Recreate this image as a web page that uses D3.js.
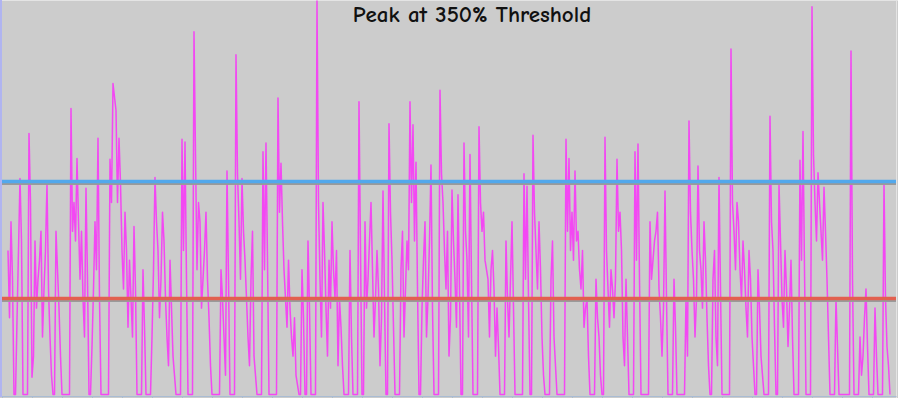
<!DOCTYPE html>
<html lang="en">
<head>
  <meta charset="UTF-8">
  <title>Peak at 350% Threshold</title>
  <style>
    html, body {
      margin: 0;
      padding: 0;
      background: #ffffff;
      overflow: hidden;
    }

    .chart-container {
      width: 898px;
      height: 398px;
      position: relative;
    }

    .title {
      font-family: "Comic Sans MS", "Comic Neue", "Noto Sans", sans-serif;
      font-size: 23px;
      font-weight: bold;
      fill: #111111;
    }

    .axis path, .axis line {
      stroke: #a9bcd3;
    }
  </style>
</head>
<body>
  <div class="chart-container">
    <svg class="chart"></svg>
  </div>

<script src="https://d3js.org/d3.v7.min.js"></script>
<script>
  // level of the signal (% of the base threshold) at whole time steps
  const signal = [
    150, 180, 0, 77, 225, 0, 0, 272, 18, 160, 120, 170, 110, 221, 60, 0, 170, 90, 0, 0,
    0, 298, 200, 246, 120, 100, 215, 0, 50, 180, 267, 0, 0, 0, 245, 324, 296, 267, 150, 190,
    70, 100, 175, 0, 0, 130, 0, 0, 60, 226, 150, 120, 160, 60, 140, 40, 0, 0, 266, 263,
    0, 0, 378, 130, 180, 120, 190, 80, 0, 0, 0, 130, 60, 233, 0, 0, 354, 180, 225, 140,
    60, 120, 40, 0, 0, 253, 262, 0, 0, 0, 309, 241, 130, 70, 90, 40, 20, 0, 130, 0,
    160, 0, 0, 410, 120, 200, 90, 140, 180, 100, 30, 70, 0, 0, 150, 0, 0, 305, 0, 180,
    120, 200, 60, 150, 30, 212, 0, 282, 140, 0, 0, 130, 60, 160, 305, 281, 242, 0, 90, 180,
    100, 239, 0, 0, 317, 200, 110, 40, 213, 120, 208, 0, 262, 140, 250, 0, 0, 279, 170, 140,
    120, 130, 110, 90, 0, 0, 160, 60, 180, 0, 0, 0, 230, 217, 0, 270, 150, 180, 60, 0,
    0, 120, 60, 0, 0, 0, 266, 246, 190, 233, 170, 110, 70, 100, 0, 0, 120, 60, 0, 268,
    110, 130, 80, 245, 190, 60, 120, 0, 0, 253, 261, 0, 0, 0, 180, 140, 170, 110, 40, 212,
    0, 0, 120, 0, 0, 0, 100, 285, 150, 60, 238, 130, 180, 80, 0, 120, 60, 226, 0, 0,
    0, 360, 170, 200, 130, 160, 90, 150, 60, 0, 130, 40, 0, 0, 290, 150, 0, 219, 100, 150,
    50, 140, 0, 0, 244, 274, 0, 0, 404, 200, 231, 170, 216, 120, 0, 0, 100, 0, 0, 0,
    0, 358, 0, 0, 60, 40, 110, 0, 0, 90, 0, 0, 221, 50, 0
  ];

  // level read half way between the whole steps
  const signalHalf = [
    80, 120, 0, 150, 160, 0, 0, 200, 40, 90, 140, 60, 150, 110, 20, 0, 130, 40, 0, 0,
    0, 170, 160, 180, 170, 60, 120, 0, 110, 130, 100, 0, 0, 0, 200, 310, 200, 220, 110, 150,
    140, 60, 110, 0, 0, 70, 0, 0, 130, 180, 80, 190, 100, 30, 90, 20, 0, 0, 150, 120,
    0, 0, 250, 200, 90, 150, 120, 30, 0, 0, 0, 100, 20, 120, 0, 0, 230, 120, 170, 100,
    30, 170, 20, 0, 0, 130, 140, 0, 0, 0, 190, 180, 100, 140, 60, 80, 10, 0, 80, 0,
    90, 0, 0, 200, 60, 150, 40, 90, 130, 150, 100, 30, 0, 0, 60, 0, 0, 150, 0, 90,
    160, 130, 100, 110, 80, 100, 0, 190, 70, 0, 0, 170, 110, 130, 200, 160, 110, 0, 140, 60,
    160, 90, 0, 0, 230, 150, 170, 80, 160, 70, 110, 0, 170, 60, 120, 0, 0, 200, 190, 130,
    60, 150, 40, 50, 0, 0, 100, 120, 90, 0, 0, 0, 120, 100, 0, 190, 110, 130, 20, 0,
    0, 160, 30, 0, 0, 0, 170, 150, 140, 160, 130, 150, 90, 40, 0, 0, 80, 20, 0, 150,
    70, 110, 120, 170, 150, 30, 60, 0, 0, 140, 120, 0, 0, 0, 120, 160, 190, 80, 90, 100,
    0, 0, 70, 0, 0, 0, 40, 190, 120, 100, 150, 90, 140, 30, 0, 150, 30, 110, 0, 0,
    0, 200, 130, 180, 100, 130, 60, 120, 30, 0, 90, 20, 0, 0, 180, 70, 0, 160, 70, 110,
    90, 60, 0, 0, 140, 130, 0, 0, 250, 160, 200, 140, 170, 60, 0, 0, 50, 0, 0, 0,
    0, 120, 0, 0, 20, 80, 50, 0, 0, 40, 0, 0, 100, 30
  ];
  const signalStart = 2;   // time of the first sample

  // horizontal threshold lines (% of base)
  const thresholdNames = ['upper', 'base'];
  const thresholdValues = [222, 100];
  const thresholdColors = ['#52a8ec', '#e2604f'];

  // time axis ticks (no labels)
  const timeTicks = d3.range(0, 300, 10);

  // merge whole and half steps into one time-ordered table
  const points = [];
  signal.forEach((v, i) => {
    points.push({ t: signalStart + i, v: v });
    if (i < signalHalf.length) points.push({ t: signalStart + i + 0.5, v: signalHalf[i] });
  });

  const width = 898;
  const height = 398;
  const margin = { top: 1, right: 2, bottom: 2, left: 2 };
  const innerW = width - margin.left - margin.right;
  const innerH = height - margin.top - margin.bottom;

  const svg = d3.select('.chart')
    .attr('width', width)
    .attr('height', height);

  // plot background
  svg.append('rect')
    .attr('width', width)
    .attr('height', height)
    .attr('fill', '#cccccc');

  // light border at top and right
  svg.append('line')
    .attr('x1', 0).attr('x2', width)
    .attr('y1', 0.5).attr('y2', 0.5)
    .attr('stroke', '#e4e4e4');
  svg.append('line')
    .attr('x1', margin.left + innerW + 0.5).attr('x2', margin.left + innerW + 0.5)
    .attr('y1', 0).attr('y2', height)
    .attr('stroke', '#e4e4e4');

  const g = svg.append('g')
    .attr('transform', `translate(${margin.left},${margin.top})`);

  const x = d3.scaleLinear()
    .domain([0, 298])
    .range([0, innerW]);

  const y = d3.scaleLinear()
    .domain([0, 410])
    .range([innerH - 1.5, 0]);

  // signal line
  const line = d3.line()
    .x(d => x(d.t))
    .y(d => y(d.v));

  g.append('path')
    .datum(points)
    .attr('fill', 'none')
    .attr('stroke', '#f440f4')
    .attr('stroke-width', 1.5)
    .attr('stroke-linejoin', 'round')
    .attr('opacity', 0.95)
    .attr('d', line);

  // threshold lines with a grey shadow beneath
  const thresholds = thresholdNames.map((n, i) => ({ name: n, value: thresholdValues[i], color: thresholdColors[i] }));

  g.selectAll('.shadow')
    .data(thresholds)
    .enter().append('line')
    .attr('class', 'shadow')
    .attr('x1', -margin.left).attr('x2', innerW)
    .attr('y1', d => y(d.value) + 2.5)
    .attr('y2', d => y(d.value) + 2.5)
    .attr('stroke', '#9a9a9a')
    .attr('stroke-width', 2);

  g.selectAll('.threshold')
    .data(thresholds)
    .enter().append('line')
    .attr('class', 'threshold')
    .attr('x1', -margin.left).attr('x2', innerW)
    .attr('y1', d => y(d.value))
    .attr('y2', d => y(d.value))
    .attr('stroke', d => d.color)
    .attr('stroke-width', 3.5);

  // x axis: ticks only
  g.append('g')
    .attr('class', 'axis')
    .attr('transform', `translate(0,${innerH})`)
    .call(d3.axisBottom(x).tickValues(timeTicks).tickSize(3).tickSizeOuter(0).tickFormat(''));

  // left axis strip
  svg.append('rect')
    .attr('x', 0).attr('y', 0)
    .attr('width', 2).attr('height', height - margin.bottom + 1)
    .attr('fill', '#b0b4f0');

  // title
  svg.append('text')
    .attr('class', 'title')
    .attr('x', 472)
    .attr('y', 22)
    .attr('text-anchor', 'middle')
    .text('Peak at 350% Threshold');
</script>
</body>
</html>
